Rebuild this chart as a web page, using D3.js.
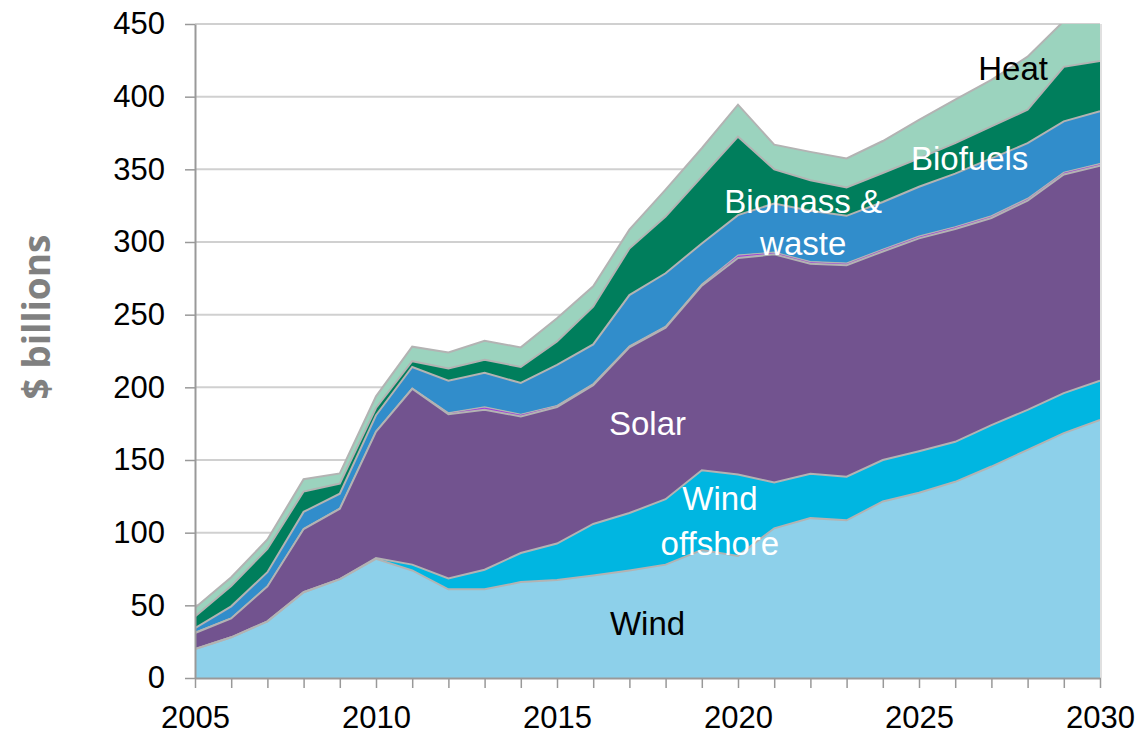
<!DOCTYPE html>
<html>
<head>
<meta charset="utf-8">
<script src="https://cdn.jsdelivr.net/npm/d3@7"></script>
<style>
  html, body { margin: 0; padding: 0; background: #fff; }
  svg { display: block; }
</style>
</head>
<body>
<div id="chart"></div>
<script>
// Investment by technology, $ billions
const years = [2005, 2006, 2007, 2008, 2009, 2010, 2011, 2012, 2013, 2014, 2015, 2016, 2017,
               2018, 2019, 2020, 2021, 2022, 2023, 2024, 2025, 2026, 2027, 2028, 2029, 2030];

const wind         = [20, 28, 39, 59, 68, 82, 74, 61, 61, 66, 67.5, 70.5, 74, 78, 88, 84, 103, 110, 108.5, 121.5, 127.5, 135, 145.5, 157, 168.5, 177.5];
const windOffshore = [0, 0, 0, 0, 0, 0.5, 4, 7.5, 13.5, 20, 25, 35.5, 39.5, 45, 55, 56, 31.5, 30.5, 30, 28.5, 28.5, 27.5, 28.5, 27.5, 27.5, 27];
const solar        = [11, 13, 24, 43.5, 48.5, 87, 121, 113, 110, 94, 94, 95.5, 114, 118, 127, 149, 157, 144.5, 145.5, 143.5, 146.5, 146.5, 142.5, 144, 150.5, 148];
const other        = [0.3, 0.3, 0.3, 0.3, 0.3, 0.3, 0.5, 1, 2, 1.5, 1, 1, 1, 1, 1, 2, 1.5, 1.5, 1.5, 1.5, 1.5, 1.5, 1.5, 1.5, 1.5, 1.5];
const biomass      = [3, 8, 9.5, 11.5, 10, 11, 14.5, 22, 23.5, 21.5, 28, 27, 35, 36.5, 28, 27.5, 33.5, 35, 32.5, 32.5, 34, 36.5, 39.5, 38, 35, 36];
const biofuels     = [8, 14, 16, 14, 7, 5, 4, 8.5, 9, 11, 16, 26, 32, 39, 46, 54, 23.5, 21, 19.5, 20, 19.5, 21, 22, 23, 37.5, 34.5];
const heat         = [6, 6, 6.5, 8.5, 7, 8, 10, 11, 13, 13.5, 16, 14, 13, 18.5, 19.5, 22, 17, 19.5, 20, 22, 26.5, 30, 32, 36.5, 31.5, 33];

const seriesKeys   = ['wind', 'windOffshore', 'solar', 'other', 'biomass', 'biofuels', 'heat'];
const seriesColors = ['#8dd0ea', '#00b6e1', '#72538f', '#a13fd6', '#318dcb', '#007e5c', '#9bd3be'];

const yTicks = [0, 50, 100, 150, 200, 250, 300, 350, 400, 450];
const xTickLabels = [2005, 2010, 2015, 2020, 2025, 2030];

// in-chart labels, anchored in data space (year, value at baseline)
const labels = [
    { text: 'Wind',      year: 2017.5, value: 29.5,  color: '#000' },
    { text: 'Wind',      year: 2019.5, value: 115.5, color: '#fff' },
    { text: 'offshore',  year: 2019.5, value: 84.5,  color: '#fff' },
    { text: 'Solar',     year: 2017.5, value: 167,   color: '#fff' },
    { text: 'Biomass &', year: 2021.8, value: 320,   color: '#fff' },
    { text: 'waste',     year: 2021.8, value: 291,   color: '#fff' },
    { text: 'Biofuels',  year: 2026.4, value: 349.5, color: '#fff' },
    { text: 'Heat',      year: 2027.6, value: 411.5, color: '#000' }
];

let size = { width: 1140, height: 739 };
let plot = { left: 195, right: 1100, top: 24, bottom: 678 };

let data = years.map((y, i) => ({
    year: y,
    wind: wind[i],
    windOffshore: windOffshore[i],
    solar: solar[i],
    other: other[i],
    biomass: biomass[i],
    biofuels: biofuels[i],
    heat: heat[i]
}));

let svg = d3.select('#chart').append('svg')
    .attr('width', size.width)
    .attr('height', size.height)
    .attr('viewBox', [0, 0, size.width, size.height]);

let xScale = d3.scaleLinear()
    .domain([2005, 2030])
    .range([plot.left, plot.right]);

let yScale = d3.scaleLinear()
    .domain([0, 450])
    .range([plot.bottom, plot.top]);

// gridlines
svg.append('g')
    .selectAll('line')
    .data(yTicks.slice(1))
    .join('line')
    .attr('x1', plot.left).attr('x2', plot.right)
    .attr('y1', d => yScale(d)).attr('y2', d => yScale(d))
    .attr('stroke', '#d0d0d0')
    .attr('stroke-width', 2);

// right border of plot area
svg.append('line')
    .attr('x1', plot.right + 1).attr('x2', plot.right + 1)
    .attr('y1', plot.top).attr('y2', plot.bottom)
    .attr('stroke', '#d6d6d6')
    .attr('stroke-width', 1.5);

svg.append('clipPath').attr('id', 'plot-clip')
    .append('rect')
    .attr('x', plot.left).attr('y', plot.top)
    .attr('width', plot.right - plot.left).attr('height', plot.bottom - plot.top);

let stack = d3.stack().keys(seriesKeys);
let layers = stack(data);

let area = d3.area()
    .x(d => xScale(d.data.year))
    .y0(d => yScale(d[0]))
    .y1(d => yScale(d[1]));

let topLine = d3.line()
    .x(d => xScale(d.data.year))
    .y(d => yScale(d[1]));

let areas = svg.append('g').attr('clip-path', 'url(#plot-clip)');

areas.selectAll('path.layer')
    .data(layers)
    .join('path')
    .attr('class', 'layer')
    .attr('d', area)
    .attr('fill', (d, i) => seriesColors[i]);

areas.selectAll('path.edge')
    .data(layers)
    .join('path')
    .attr('class', 'edge')
    .attr('d', topLine)
    .attr('fill', 'none')
    .attr('stroke', '#b3b3b3')
    .attr('stroke-width', d => d.key === 'other' ? 1.2 : 2);

// y axis
let yAxis = svg.append('g')
    .attr('transform', `translate(${plot.left},0)`)
    .call(d3.axisLeft(yScale).tickValues(yTicks).tickSize(10).tickPadding(20).tickSizeOuter(0));

// x axis
let xAxis = svg.append('g')
    .attr('transform', `translate(0,${plot.bottom})`)
    .call(d3.axisBottom(xScale).tickValues(years).tickSize(10).tickPadding(18).tickSizeOuter(0)
        .tickFormat(d => xTickLabels.includes(d) ? String(d) : ''));

[yAxis, xAxis].forEach(ax => {
    ax.select('.domain').attr('stroke', '#999').attr('stroke-width', 2);
    ax.selectAll('.tick line').attr('stroke', '#999').attr('stroke-width', 1.5);
    ax.selectAll('.tick text')
        .attr('fill', '#000')
        .style('font-family', '"Liberation Sans", Arial, sans-serif')
        .style('font-size', '31px');
});
xAxis.selectAll('.tick text').attr('dy', '0.72em');

// y axis title
svg.append('text')
    .attr('transform', 'translate(50,317) rotate(-90)')
    .attr('text-anchor', 'middle')
    .attr('fill', '#808080')
    .style('font-family', '"Open Sans", sans-serif')
    .style('font-weight', 'bold')
    .style('font-size', '37px')
    .text('$ billions');

// labels inside the chart
svg.append('g')
    .selectAll('text')
    .data(labels)
    .join('text')
    .attr('x', d => xScale(d.year))
    .attr('y', d => yScale(d.value))
    .attr('text-anchor', 'middle')
    .attr('fill', d => d.color)
    .style('font-family', '"Liberation Sans", Arial, sans-serif')
    .style('font-size', '33px')
    .text(d => d.text);
</script>
</body>
</html>
